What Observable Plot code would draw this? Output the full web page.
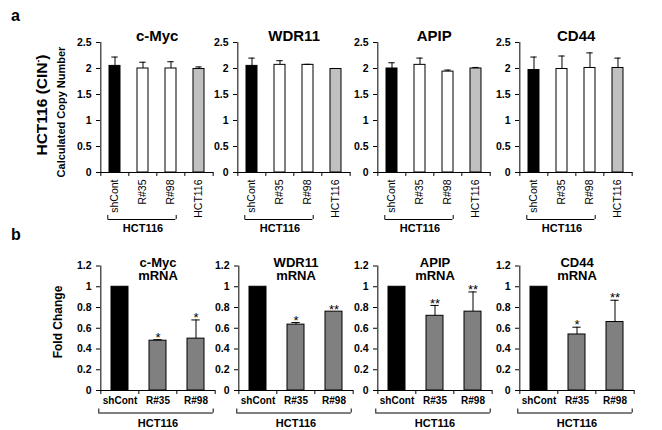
<!DOCTYPE html>
<html><head><meta charset="utf-8">
<script src="https://cdn.jsdelivr.net/npm/d3@7"></script>
<script src="https://cdn.jsdelivr.net/npm/@observablehq/plot@0.6"></script>
<style>
body{margin:0;background:#fff;font-family:"Liberation Sans",Arial,Helvetica,sans-serif;}
#wrap{position:relative;width:662px;height:430px;overflow:hidden;background:#fff;}
.lbl{position:absolute;font-weight:bold;white-space:nowrap;line-height:1;color:#000;}
.rot{transform:translate(-50%,-50%) rotate(-90deg);}
.panel{position:absolute;}
</style></head><body><div id="wrap"></div>
<script>
// ---------- data ----------
const genes = ["c-Myc", "WDR11", "APIP", "CD44"];
const groupLabel = "HCT116";

// (a) calculated copy number
const copyCats = ["shCont", "R#35", "R#98", "HCT116"];
const copyTicks = [0, 0.5, 1, 1.5, 2, 2.5];
const copyMyc = [2.05, 2.00, 2.00, 1.99];
const copyMycErr = [0.17, 0.12, 0.13, 0.04];
const copyWdr11 = [2.05, 2.07, 2.07, 1.99];
const copyWdr11Err = [0.15, 0.08, 0.01, 0.01];
const copyApip = [2.00, 2.07, 1.94, 2.00];
const copyApipErr = [0.11, 0.13, 0.03, 0.02];
const copyCd44 = [1.97, 1.99, 2.01, 2.01];
const copyCd44Err = [0.25, 0.25, 0.29, 0.19];

// (b) mRNA fold change
const mrnaCats = ["shCont", "R#35", "R#98"];
const mrnaTicks = [0, 0.2, 0.4, 0.6, 0.8, 1, 1.2];
const mrnaMyc = [1.00, 0.48, 0.50];
const mrnaMycErr = [0, 0.01, 0.18];
const mrnaMycStars = ["", "*", "*"];
const mrnaWdr11 = [1.00, 0.635, 0.76];
const mrnaWdr11Err = [0, 0.02, 0];
const mrnaWdr11Stars = ["", "*", "**"];
const mrnaApip = [1.00, 0.72, 0.76];
const mrnaApipErr = [0, 0.10, 0.19];
const mrnaApipStars = ["", "**", "**"];
const mrnaCd44 = [1.00, 0.54, 0.66];
const mrnaCd44Err = [0, 0.07, 0.21];
const mrnaCd44Stars = ["", "*", "**"];

// ---------- layout / style ----------
const FONT = '"Liberation Sans", Arial, Helvetica, sans-serif';
const wrap = document.getElementById("wrap");
const topX0 = [100, 237.3, 376.7, 519.3];
const botX0 = [100, 238.3, 376.7, 518.7];

function topFill(c) { return c === "shCont" ? "black" : c === "HCT116" ? "#c0c0c0" : "white"; }
function botFill(c) { return c === "shCont" ? "black" : "#808080"; }

function drawPanel(o) {
  const n = o.cats.length;
  const step = o.plotW / n;
  const bw = step * (1 - o.padIn);
  const ppu = o.plotH / o.yMax;
  const px = p => p / ppu;
  const data = o.cats.map((c, i) => ({cat: c, v: o.values[i], e: o.errs[i], s: o.stars ? o.stars[i] : "", f: o.fill(c)}));
  const withErr = data.filter(d => d.e > 0);
  const first = o.cats[0], last = o.cats[o.bracketLastIdx];
  const ci = (bw - o.cap) / 2;
  const marks = [
    Plot.barY(data, {x: "cat", y: "v", fill: "f", stroke: "black", strokeWidth: 1}),
    Plot.ruleX(withErr, {x: "cat", y1: "v", y2: d => d.v + d.e, stroke: "black"}),
    Plot.tickY(withErr, {x: "cat", y: d => d.v + d.e, insetLeft: ci, insetRight: ci, stroke: "black"}),
    Plot.ruleY([0], {stroke: "black"}),
    Plot.ruleX([first], {x: d => d, y1: 0, y2: o.yMax, dx: -step / 2, stroke: "black"}),
    Plot.ruleX(o.cats, {x: d => d, y1: 0, y2: -px(4), dx: -step / 2, stroke: "black"}),
    Plot.ruleX([o.cats[n - 1]], {x: d => d, y1: 0, y2: -px(4), dx: step / 2, stroke: "black"}),
    Plot.axisY({ticks: o.yTicks, tickSize: 4, tickPadding: 5, tickFormat: d => String(d), fontSize: 10.5, fontWeight: "bold", label: null}),
    o.rotate
      ? Plot.axisX({tickSize: 0, tickPadding: 7, tickRotate: -90, fontSize: 10.5, label: null})
      : Plot.axisX({tickSize: 0, tickPadding: 6, fontSize: 10, fontWeight: "bold", label: null}),
    // bracket under the HCT116 group
    Plot.ruleY([-px(o.brY)], {y: d => d, x1: () => first, x2: () => last, insetLeft: o.brL + bw / 2, insetRight: bw / 2 - o.brR, stroke: "black"}),
    Plot.ruleX([first], {x: d => d, y1: -px(o.brY), y2: -px(o.brY - o.brEnd), dx: o.brL, stroke: "black"}),
    Plot.ruleX([last], {x: d => d, y1: -px(o.brY), y2: -px(o.brY - o.brEnd), dx: o.brR, stroke: "black"}),
    Plot.text([groupLabel], {x: () => o.cats[1], y: -px(o.brTextY), text: d => d, fontSize: 11, fontWeight: "bold"}),
    Plot.text(data.filter(d => d.s), {x: "cat", y: d => d.v + d.e, text: "s", dy: -2, fontSize: 13}),
    Plot.text([o.title], {text: d => d, frameAnchor: "top", lineAnchor: "middle", dy: o.titleDy, fontSize: o.titleSize, lineHeight: 1.05, fontWeight: "bold"})
  ];
  const chart = Plot.plot({
    width: o.mL + o.plotW + o.mR,
    height: o.mT + o.plotH + o.mB,
    marginLeft: o.mL, marginRight: o.mR, marginTop: o.mT, marginBottom: o.mB,
    x: {domain: o.cats, paddingInner: o.padIn, paddingOuter: o.padIn / 2, label: null},
    y: {domain: [0, o.yMax], label: null},
    style: {background: "transparent", overflow: "visible", fontFamily: FONT, color: "black"},
    marks
  });
  const div = document.createElement("div");
  div.className = "panel";
  div.style.left = (o.x0 - o.mL) + "px";
  div.style.top = o.top + "px";
  div.appendChild(chart);
  wrap.appendChild(div);
}

const copyVals = [copyMyc, copyWdr11, copyApip, copyCd44];
const copyErrs = [copyMycErr, copyWdr11Err, copyApipErr, copyCd44Err];
const mrnaVals = [mrnaMyc, mrnaWdr11, mrnaApip, mrnaCd44];
const mrnaErrs = [mrnaMycErr, mrnaWdr11Err, mrnaApipErr, mrnaCd44Err];
const mrnaStars = [mrnaMycStars, mrnaWdr11Stars, mrnaApipStars, mrnaCd44Stars];

genes.forEach((g, i) => {
  drawPanel({
    cats: copyCats, values: copyVals[i], errs: copyErrs[i], stars: null, fill: topFill,
    yMax: 2.5, yTicks: copyTicks, plotW: 113.3, plotH: 130,
    mL: 40, mR: 12, mT: 42, mB: 63, x0: topX0[i], top: 0,
    padIn: 0.59, cap: 7, rotate: true,
    bracketLastIdx: 2, brY: 47, brEnd: 4, brL: -7.2, brR: 5.2, brTextY: 56,
    title: g, titleDy: -7, titleSize: 15
  });
  drawPanel({
    cats: mrnaCats, values: mrnaVals[i], errs: mrnaErrs[i], stars: mrnaStars[i], fill: botFill,
    yMax: 1.2, yTicks: mrnaTicks, plotW: 115, plotH: 124.5,
    mL: 40, mR: 12, mT: 30.5, mB: 40, x0: botX0[i], top: 235,
    padIn: 0.565, cap: 8, rotate: false,
    bracketLastIdx: 2, brY: 22.5, brEnd: 4, brL: -21.2, brR: 17.2, brTextY: 33,
    title: g + "\nmRNA", titleDy: 3, titleSize: 13
  });
});

// ---------- left labels ----------
function label(html, css) {
  const d = document.createElement("div");
  d.className = "lbl" + (css.rot ? " rot" : "");
  d.innerHTML = html;
  d.style.left = css.left + "px";
  d.style.top = css.top + "px";
  d.style.fontSize = css.size + "px";
  wrap.appendChild(d);
}
label("a", {left: 11, top: 8, size: 16});
label("b", {left: 11, top: 226.5, size: 16});
label('HCT116 (CIN<span style="font-size:0.55em;vertical-align:0.75em">-</span>)', {left: 41.5, top: 105, size: 15.5, rot: true});
label("Calculated Copy Number", {left: 61, top: 112, size: 11, rot: true});
label("Fold Change", {left: 58, top: 322, size: 12, rot: true});
</script>
</body></html>
